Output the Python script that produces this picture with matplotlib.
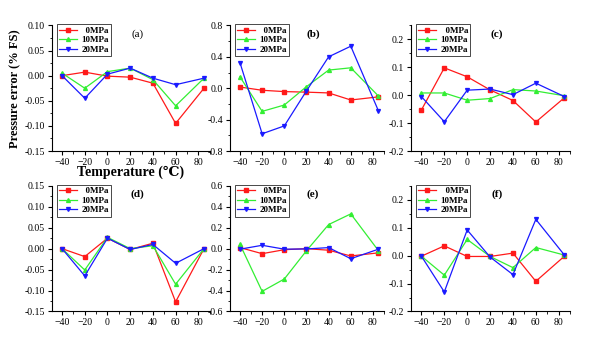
import matplotlib
matplotlib.use("Agg")
import matplotlib.pyplot as plt
from matplotlib.ticker import MultipleLocator, AutoMinorLocator

plt.rcParams['font.family'] = ['Liberation Serif', 'DejaVu Serif', 'DejaVu Sans']

### data
temps = [-40, -20, 0, 20, 40, 60, 85]
labels = ['  0MPa', '10MPa', '20MPa']

a_0  = [0.000, 0.007, -0.001, -0.003, -0.015, -0.095, -0.025]
a_10 = [0.005, -0.025, 0.008, 0.015, -0.008, -0.060, -0.005]
a_20 = [0.000, -0.045, 0.003, 0.015, -0.005, -0.018, -0.005]

b_0  = [0.015, -0.026, -0.043, -0.050, -0.060, -0.150, -0.110]
b_10 = [0.145, -0.295, -0.214, 0.020, 0.231, 0.260, -0.100]
b_20 = [0.325, -0.580, -0.480, -0.034, 0.400, 0.535, -0.290]

c_0  = [-0.053, 0.098, 0.066, 0.019, -0.019, -0.096, -0.009]
c_10 = [0.008, 0.008, -0.018, -0.012, 0.020, 0.015, -0.002]
c_20 = [-0.005, -0.095, 0.018, 0.022, 0.002, 0.043, -0.005]

d_0  = [0.000, -0.019, 0.025, -0.002, 0.013, -0.127, 0.000]
d_10 = [0.000, -0.051, 0.027, 0.000, 0.007, -0.085, 0.000]
d_20 = [0.000, -0.065, 0.025, -0.002, 0.010, -0.035, 0.000]

e_0  = [0.010, -0.048, -0.010, 0.000, -0.015, -0.070, -0.040]
e_10 = [0.041, -0.408, -0.290, -0.020, 0.230, 0.332, -0.020]
e_20 = [-0.005, 0.032, -0.005, -0.003, 0.010, -0.096, -0.005]

f_0  = [-0.002, 0.035, -0.003, -0.003, 0.009, -0.092, -0.002]
f_10 = [-0.002, -0.070, 0.058, -0.003, -0.043, 0.029, 0.002]
f_20 = [-0.002, -0.130, 0.092, -0.005, -0.068, 0.130, 0.002]

panels = [
    ('(a)', [a_0, a_10, a_20], (-0.15, 0.10), 0.05, '%.2f'),
    ('(b)', [b_0, b_10, b_20], (-0.8, 0.8), 0.4, '%.1f'),
    ('(c)', [c_0, c_10, c_20], (-0.2, 0.25), 0.1, '%.1f'),
    ('(d)', [d_0, d_10, d_20], (-0.15, 0.15), 0.05, '%.2f'),
    ('(e)', [e_0, e_10, e_20], (-0.6, 0.6), 0.2, '%.1f'),
    ('(f)', [f_0, f_10, f_20], (-0.2, 0.25), 0.1, '%.1f'),
]

colors  = ['#ff1a1a', '#33ee33', '#1a1aff']
markers = ['s', '^', 'v']

### layout (figure fractions)
lefts   = [0.088, 0.3905, 0.698]
widths  = [0.268, 0.2615, 0.270]
bottoms = [0.566, 0.105]
height  = 0.361

fig = plt.figure(figsize=(5.89, 3.48), dpi=100)

for i, (tag, series, ylim, step, fmt) in enumerate(panels):
    row, col = divmod(i, 3)
    ax = fig.add_axes([lefts[col], bottoms[row], widths[col], height])
    for ys, lab, c, m in zip(series, labels, colors, markers):
        ax.plot(temps, ys, color=c, marker=m, markersize=2.8, lw=0.9, label=lab)
    ax.set_xlim(-49, 90)
    ax.set_ylim(*ylim)
    ax.set_xticks([-40, -20, 0, 20, 40, 60, 80])
    ax.yaxis.set_major_locator(MultipleLocator(step))
    ax.yaxis.set_major_formatter(matplotlib.ticker.FormatStrFormatter(fmt))
    ax.xaxis.set_minor_locator(AutoMinorLocator(2))
    ax.yaxis.set_minor_locator(AutoMinorLocator(2))
    ax.spines['top'].set_visible(False)
    ax.spines['right'].set_visible(False)
    ax.tick_params(which='major', direction='out', length=3, width=0.8, labelsize=7, pad=2)
    ax.tick_params(which='minor', direction='out', length=1.8, width=0.6)
    leg = ax.legend(loc='upper left', bbox_to_anchor=(0.03, 1.01), borderaxespad=0,
                    prop={'weight': 'bold', 'size': 6.5}, handlelength=2.0, handletextpad=0.5,
                    labelspacing=0.15, borderpad=0.25, fancybox=False, framealpha=1)
    leg.get_frame().set_edgecolor('black')
    leg.get_frame().set_linewidth(0.5)
    ax.text(0.54, 0.93, tag, transform=ax.transAxes, ha='center', va='center',
            fontsize=8, fontweight='normal' if tag == '(a)' else 'bold')
    if i == 0:
        ax.set_ylabel('Pressure error (% FS)', fontsize=9, fontweight='bold', labelpad=2)
        ax.set_xlabel('Temperature (℃)', fontsize=10, fontweight='bold', labelpad=-1)

fig.savefig('out.png', dpi=100)
